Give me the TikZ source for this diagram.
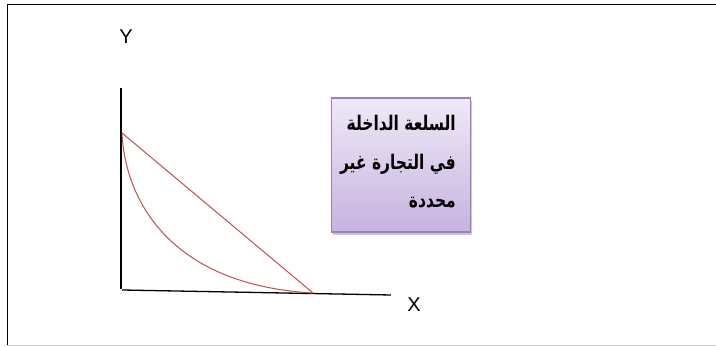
\documentclass[tikz,border=0pt]{standalone}
\usepackage{graphicx}
\usepackage{fontspec}
\setsansfont{Liberation Sans}
\newfontfamily\arabicfont[Script=Arabic, BoldFont={DejaVu Sans Bold}]{DejaVu Sans}
\TeXXeTstate=1
\usetikzlibrary{shadows}
\definecolor{curvered}{HTML}{C0504D}
\definecolor{boxtop}{HTML}{EFE9F7}
\definecolor{boxbot}{HTML}{C6B3DF}
\definecolor{boxedge}{HTML}{9B7FC4}
\newcommand{\arline}[1]{\scalebox{1}[1.3]{\beginR #1\endR}}
\tikzset{
  axis/.style={line width=1.3pt, black},
  redline/.style={line width=1pt, curvered},
  axislabel/.style={font=\sffamily\fontsize{20}{24}\selectfont, inner sep=0pt},
  notebox/.style={draw=boxedge, line width=1.4pt, top color=boxtop, bottom color=boxbot,
    minimum width=139pt, minimum height=134pt, inner sep=0pt,
    drop shadow={shadow xshift=1pt, shadow yshift=-3pt, opacity=0.35, fill=black!60}},
  notetext/.style={font=\arabicfont\bfseries\fontsize{15.5}{18}\selectfont, inner sep=0pt, anchor=base east}
}
\begin{document}
\begin{tikzpicture}[x=1pt,y=-1pt]
\useasboundingbox (0,0) rectangle (716,347);
\fill[white] (0,0) rectangle (716,347);
% frame
\draw[line width=1pt] (716,5) -- (7,5) -- (7,345);
\draw[line width=0.8pt, black!20] (7,345) -- (716,345);
% axes
\coordinate (ytop) at (121,88);
\coordinate (o) at (121,289);
\coordinate (xend) at (391,295);
\draw[axis] (ytop) -- (o);
\draw[axis] (122,290) -- (xend);
\node[axislabel] (ylab) at (126,37) {Y};
\node[axislabel] (xlab) at (414,305) {X};
% curves
\coordinate (a) at (122,133);
\coordinate (b) at (313,293);
\draw[redline] (a) -- (b);
\draw[redline] (a) .. controls (125,200) and (170,285) .. (b);
% box
\node[notebox] (box) at (401,165) {};
\node[notetext] (t1) at (456,131) {\arline{السلعة الداخلة}};
\node[notetext] (t2) at (456,170) {\arline{في التجارة غير}};
\node[notetext] (t3) at (456,208) {\arline{محددة}};
\end{tikzpicture}
\end{document}
